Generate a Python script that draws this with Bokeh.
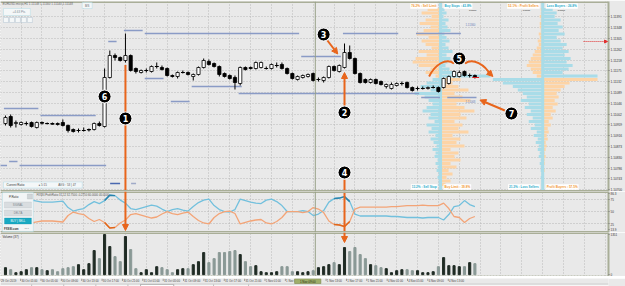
import numpy as np
from bokeh.plotting import figure
from bokeh.layouts import column
from bokeh.models import (Range1d, LinearAxis, FixedTicker, Grid, Span, Label,
                          Arrow, NormalHead, PrintfTickFormatter, ColumnDataSource, BoxAnnotation)
from bokeh.core.properties import value
from bokeh.embed import file_html
from bokeh.resources import INLINE

# ---------------- data ----------------
symbol = "EURUSD.micro,H1"
open_ = [1.10964,1.10992,1.10964,1.10960,1.10964,1.10968,1.10948,1.10968,1.10964,1.10964,
         1.10964,1.10968,1.10956,1.10940,1.10936,1.10936,1.10938,1.10940,1.10964,1.10952,
         1.11148,1.11236,1.11228,1.11216,1.11236,1.11184,1.11168,1.11176,1.11172,1.11192,
         1.11188,1.11184,1.11156,1.11152,1.11168,1.11168,1.11152,1.11160,1.11188,1.11212,
         1.11204,1.11192,1.11164,1.11156,1.11148,1.11124,1.11188,1.11188,1.11184,1.11188,
         1.11184,1.11184,1.11196,1.11200,1.11184,1.11164,1.11140,1.11148,1.11152,1.11164,
         1.11140,1.11136,1.11148,1.11192,1.11172,1.11188,1.11248,1.11224,1.11164,1.11140,
         1.11128,1.11140,1.11132,1.11112,1.11104,1.11116,1.11124,1.11128,1.11108,1.11104,
         1.11104,1.11104,1.11108,1.11108,1.11108,1.11124,1.11152,1.11152,1.11172,1.11156,1.11156]
high = [1.10996,1.11000,1.10976,1.10972,1.10972,1.10972,1.10972,1.10972,1.10968,1.10968,
        1.10968,1.10980,1.10960,1.10944,1.10944,1.10948,1.10944,1.10968,1.10972,1.11184,
        1.11256,1.11244,1.11232,1.11324,1.11240,1.11188,1.11180,1.11184,1.11196,1.11208,
        1.11196,1.11188,1.11160,1.11172,1.11176,1.11172,1.11164,1.11192,1.11224,1.11220,
        1.11208,1.11196,1.11168,1.11160,1.11156,1.11192,1.11192,1.11192,1.11212,1.11212,
        1.11192,1.11204,1.11208,1.11208,1.11188,1.11168,1.11156,1.11160,1.11164,1.11168,
        1.11148,1.11152,1.11196,1.11196,1.11200,1.11284,1.11276,1.11228,1.11168,1.11144,
        1.11144,1.11144,1.11136,1.11124,1.11128,1.11128,1.11132,1.11132,1.11112,1.11112,
        1.11112,1.11112,1.11116,1.11112,1.11148,1.11156,1.11176,1.11176,1.11176,1.11164,1.11160]
low = [1.10956,1.10948,1.10948,1.10956,1.10956,1.10948,1.10944,1.10960,1.10960,1.10960,
       1.10956,1.10952,1.10928,1.10928,1.10928,1.10932,1.10932,1.10936,1.10952,1.10948,
       1.11144,1.11216,1.11212,1.11208,1.11172,1.11164,1.11164,1.11168,1.11168,1.11184,
       1.11176,1.11152,1.11148,1.11144,1.11164,1.11156,1.11136,1.11156,1.11184,1.11196,
       1.11188,1.11152,1.11148,1.11140,1.11100,1.11116,1.11176,1.11180,1.11180,1.11184,
       1.11180,1.11180,1.11188,1.11180,1.11160,1.11140,1.11136,1.11144,1.11148,1.11132,
       1.11132,1.11128,1.11144,1.11172,1.11168,1.11184,1.11220,1.11160,1.11124,1.11124,
       1.11124,1.11120,1.11116,1.11104,1.11100,1.11112,1.11116,1.11104,1.11092,1.11096,
       1.11100,1.11100,1.11104,1.11088,1.11104,1.11120,1.11148,1.11148,1.11152,1.11148,1.11144]
close = [1.10988,1.10956,1.10968,1.10968,1.10964,1.10952,1.10968,1.10966,1.10964,1.10962,
         1.10960,1.10956,1.10936,1.10932,1.10936,1.10936,1.10940,1.10964,1.10956,1.11148,
         1.11236,1.11228,1.11216,1.11236,1.11176,1.11172,1.11176,1.11176,1.11192,1.11192,
         1.11180,1.11156,1.11152,1.11168,1.11168,1.11160,1.11160,1.11188,1.11216,1.11200,
         1.11192,1.11160,1.11152,1.11144,1.11128,1.11188,1.11180,1.11184,1.11208,1.11208,
         1.11184,1.11200,1.11196,1.11184,1.11164,1.11144,1.11152,1.11156,1.11160,1.11136,
         1.11140,1.11148,1.11192,1.11176,1.11196,1.11248,1.11224,1.11164,1.11128,1.11128,
         1.11140,1.11124,1.11120,1.11120,1.11120,1.11124,1.11124,1.11108,1.11096,1.11104,
         1.11104,1.11108,1.11108,1.11092,1.11144,1.11152,1.11172,1.11168,1.11156,1.11156,1.11148]
volume = [237,169,68,101,169,237,237,169,135,169,
          101,203,237,270,338,169,372,811,541,1351,
          946,608,439,1284,845,203,68,169,68,270,
          237,169,68,169,203,203,338,439,744,406,
          541,744,744,777,811,676,439,270,304,101,
          68,68,101,270,270,101,101,68,101,135,
          237,270,338,406,338,913,777,913,676,541,
          338,304,237,203,68,135,169,169,135,135,
          68,68,101,270,575,304,304,270,270,406,372]
ratio_blue = [67,69,70,72,73,73,71,69,69,69,
              70,71,58,51,54,56,64,70,66,72,
              83,82,73,67,56,54,57,60,63,61,
              55,50,54,56,53,51,60,68,73,75,
              62,54,50,49,54,75,72,69,67,66,
              73,75,70,62,50,50,50,52,50,42,
              45,52,69,76,77,80,70,45,41,41,
              41,41,41,41,40,40,39,38,38,38,
              37,38,38,38,33,44,60,62,72,64,60]
ratio_orange = [33,31,30,28,27,27,29,31,31,31,
                30,29,42,49,46,44,36,30,34,28,
                17,18,27,33,44,46,43,40,37,39,
                45,50,46,44,47,49,40,32,27,25,
                38,46,50,51,46,25,28,31,33,34,
                27,25,30,38,50,50,50,48,50,58,
                55,48,31,24,23,20,30,55,59,59,
                59,59,59,59,60,60,61,62,62,62,
                63,62,62,62,67,56,40,38,28,36,40]
time_ticks = [-1,3,7,11,15,19,23,27,31,35,39,43,47,51,55,59,63,67,71,75,79,83,87]
time_labels = ["29 Oct 2019","30 Oct 01:00","30 Oct 05:00","30 Oct 09:00","30 Oct 13:00",
               "30 Oct 17:00","30 Oct 21:00","31 Oct 01:00","31 Oct 05:00","31 Oct 09:00",
               "31 Oct 13:00","31 Oct 17:00","31 Oct 21:00","1 Nov 01:00","1 Nov 05:00",
               "1 Nov 09:00","1 Nov 13:00","1 Nov 17:00","1 Nov 21:00","4 Nov 01:00",
               "4 Nov 05:00","4 Nov 09:00","4 Nov 13:00"]
price_ticks = [1.10700,1.10743,1.10786,1.10830,1.10873,1.10916,1.10959,1.11002,1.11046,
               1.11089,1.11132,1.11175,1.11218,1.11262,1.11305,1.11348,1.11391]
ratio_ticks = [13.9, 25, 50, 75, 86.3]
volume_ticks = [0, 1351]
# order book / position book levels and percentages
book_levels = [1.11420,1.11406,1.11392,1.11378,1.11364,1.11350,1.11336,1.11322,1.11308,1.11294,
               1.11280,1.11266,1.11252,1.11238,1.11224,1.11210,1.11196,1.11182,1.11168,1.11154,
               1.11140,1.11126,1.11112,1.11098,1.11084,1.11070,1.11056,1.11042,1.11028,1.11014,
               1.11000,1.10986,1.10972,1.10958,1.10944,1.10930,1.10916,1.10902,1.10888,1.10874,
               1.10860,1.10846,1.10832,1.10818,1.10804,1.10790,1.10776,1.10762,1.10748,1.10734,1.10720]
orders_left = [1.3,1.9,0.9,1.5,2.1,1.0,1.7,2.4,1.2,1.9,1.5,0.9,2.2,1.4,2.5,2.8,2.2,1.0,1.5,0.5,
               0.8,1.4,2.0,1.0,2.6,1.6,1.2,0.8,1.4,1.8,1.0,1.2,0.6,1.4,0.9,1.2,0.5,1.0,0.7,0.4,
               0.8,0.5,0.6,0.3,0.5,0.3,0.4,0.2,0.3,0.2,0.2]
orders_right = [0.4,0.6,0.3,0.8,0.5,0.7,1.0,0.4,0.6,0.9,0.5,0.8,1.2,0.6,1.0,0.7,0.5,0.9,1.4,5.0,
                2.0,1.2,1.8,2.8,1.4,2.2,3.0,1.6,2.4,3.4,2.0,2.6,1.4,2.2,1.8,2.8,1.2,2.0,1.6,2.4,
                1.0,1.8,1.4,2.0,1.0,1.6,0.8,1.2,0.6,1.0,0.5]
positions_left = [0.2,0.2,0.3,0.2,0.3,0.3,0.2,0.4,0.3,0.5,0.4,0.6,0.8,1.0,1.2,1.4,1.6,1.2,1.0,0.6,
                  5.0,4.0,3.0,2.5,2.0,1.6,2.2,1.4,1.8,1.2,1.6,1.0,1.4,0.8,1.2,0.6,0.9,0.5,0.7,0.4,
                  0.5,0.3,0.4,0.2,0.3,0.2,0.2,0.1,0.2,0.1,0.1]
positions_right = [1.0,1.4,1.2,1.8,1.5,2.0,1.6,2.2,1.4,1.8,2.4,2.0,2.6,2.2,2.8,2.4,3.0,2.6,2.0,5.5,
                   5.5,2.7,2.2,1.8,1.4,1.6,1.2,1.5,1.0,1.3,0.8,1.0,0.6,0.8,0.5,0.6,0.4,0.5,0.3,0.4,
                   0.3,0.2,0.3,0.2,0.2,0.1,0.2,0.1,0.1,0.1,0.1]
# horizontal level lines drawn on the chart
level_price = [1.11336,1.11324,1.11324,1.11324,1.11292,1.11232,1.11144,1.11112,1.11084,
               1.11068,1.11068,1.11024,1.10996,1.11052,1.10796,1.10812,1.10796]
level_start = [23,27,65,79,20,57,27,36,45,80,85,0,7,32,-1,1,3]
level_end = [26,56,75,87,21,64,30,45,79,83,90,6,17,35,0,2,19]
marker_bar = [23,65,61,65,87,19,97]
marker_price = [1.10984,1.11008,1.11320,1.10768,1.11224,1.11072,1.11004]
marker_text = ["1","2","3","4","5","6","7"]
tabs = ["EURUSD.micro,M15","GBPUSD.micro,H1","USDJPY.micro,M15","AUDCAD.micro,H1",
        "USDCAD.micro,H1","EURAUD.micro,H1","EURUSD.micro,H1"]

# ---------------- style / geometry ----------------
OL = "#a9ae98"; BG = "#e9e9e9"; GRIDC = "#b4b4b4"
OR = "#e8651c"; ORB = "#fdd4a6"; BLB = "#a9dce8"; ORT = "#f2982f"; BLT = "#27abc9"
LV = "#8a9bc6"; FONT = "Liberation Sans"
PX_BAR = 5.233
def bx(xp): return (xp - 5) / PX_BAR
def py(yp): return 1.11456 - 0.00004 * yp
def ry(yp): return 90.3 - (yp - 191) * 2.011
def vy(yp): return (276 - yp) * 33.636 - 60
def ty(yp): return 286 - yp

idx = np.arange(len(open_))
o = np.array(open_); c = np.array(close)
bid = close[-1]
crosshair_bar = 59.4
grid_ticks = time_ticks + [91, 95, 99, 103, 107, 111, 115]

xr = Range1d(bx(0), bx(610))

def mkfig(h, yr, top=0, bottom=0):
    f = figure(width=625, height=h, x_range=xr, y_range=yr, output_backend="svg",
               toolbar_location=None, x_axis_location=None, y_axis_location=None,
               min_border_left=0, min_border_right=15, min_border_top=top,
               min_border_bottom=bottom, background_fill_color=BG, border_fill_color=BG)
    f.outline_line_color = None
    f.xgrid.visible = False
    f.ygrid.visible = False
    f.add_layout(Grid(dimension=0, ticker=FixedTicker(ticks=grid_ticks), grid_line_color=GRIDC,
                      grid_line_dash="1 2", grid_line_alpha=0.9))
    return f

def right_axis(f, ticks, fmt, size="3.2px"):
    ax = LinearAxis(ticker=FixedTicker(ticks=ticks), formatter=PrintfTickFormatter(format=fmt),
                    axis_line_color=OL, axis_line_width=2, major_tick_line_color="#777",
                    major_tick_out=1, major_tick_in=0, minor_tick_line_color=None,
                    major_label_text_font_size=size, major_label_text_color="#333",
                    major_label_standoff=1, major_label_text_font=FONT)
    f.add_layout(ax, "right")

def lab(f, x, y, text, size="3px", color="#444", align="left", bg=None, border=None,
        style="normal", pad=0, xr_name="default", baseline="middle"):
    f.add_layout(Label(x=x, y=y, text=text, text_font_size=size, text_color=color,
                       text_align=align, text_baseline=baseline, text_font=FONT,
                       text_font_style=style, background_fill_color=bg,
                       border_line_color=border, padding=pad, x_range_name=xr_name))

def box(f, l, r, t, b, fill, line):
    f.add_layout(BoxAnnotation(left=l, right=r, top=t, bottom=b, fill_color=fill,
                               fill_alpha=1, line_color=line, line_width=1))

# ---------------- main price panel ----------------
p1 = mkfig(191, Range1d(py(191), py(1)), top=1)
p1.extra_x_ranges = {"book": Range1d(0, 61)}
p1.add_layout(Grid(dimension=1, ticker=FixedTicker(ticks=price_ticks), grid_line_color=GRIDC,
                   grid_line_dash="1 2", grid_line_alpha=0.9))
right_axis(p1, price_ticks, "%.5f")

above = [lv > bid for lv in book_levels]
B1, B2 = 44.15, 54.4
p1.hbar(y=book_levels, height=0.00012, left=[B1 - v for v in orders_left], right=B1,
        fill_color=[ORB if a else BLB for a in above], line_color=None, x_range_name="book")
p1.hbar(y=book_levels, height=0.00012, left=B1, right=[B1 + v for v in orders_right],
        fill_color=[BLB if a else ORB for a in above], line_color=None, x_range_name="book")
p1.hbar(y=book_levels, height=0.00012, left=[B2 - v for v in positions_left], right=B2,
        fill_color=[ORB if a else BLB for a in above], line_color=None, x_range_name="book")
p1.hbar(y=book_levels, height=0.00012, left=B2, right=[B2 + v for v in positions_right],
        fill_color=[BLB if a else ORB for a in above], line_color=None, x_range_name="book")
p1.quad(left=[B1 - 0.15, B2 - 0.15], right=[B1 + 0.15, B2 + 0.15], bottom=py(191), top=py(1),
        fill_color=BLB, line_color=None, x_range_name="book")

# book captions
for x, t, al, col, yy in [(B1 - 0.3, "76.2% : Sell Limit", "right", ORT, 5.5),
                          (B1 + 0.3, "Buy Stops : 43.8%", "left", BLT, 5.5),
                          (B2 - 0.3, "52.1% : Profit Sellers", "right", ORT, 5.5),
                          (B2 + 0.3, "Loss Buyers : 26.8%", "left", BLT, 5.5),
                          (B1 - 0.3, "13.2% : Sell Stop", "right", BLT, 186.5),
                          (B1 + 0.3, "Buy Limit : 39.8%", "left", ORT, 186.5),
                          (B2 - 0.3, "21.3% : Loss Sellers", "right", BLT, 186.5),
                          (B2 + 0.3, "Profit Buyers : 57.5%", "left", ORT, 186.5)]:
    lab(p1, x, py(yy), t, size="3.1px", color=col, align=al, bg="white", style="bold",
        pad=1, xr_name="book")
for x in [47.0, 52.4, 55.9]:
    lab(p1, x, py(10), "0.0000", size="2.4px", color="#555", bg="#c9c9c9", pad=0, xr_name="book")

# level lines
for pr, s, e in zip(level_price, level_start, level_end):
    p1.segment(x0=s - 0.3, x1=e + 0.3, y0=pr, y1=pr, line_color=LV, line_width=1.6)
lab(p1, 88.2, py(24), "1.11360", size="2.8px", color="#6b7fb8")
lab(p1, 88.2, py(100.5), "1.11068", size="2.8px", color="#6b7fb8")

# candles
top = np.maximum(o, c); bot = np.minimum(o, c)
src = ColumnDataSource(dict(i=idx, h=high, l=low, top=top, bot=bot,
                            fill=["white" if cc >= oo else "black" for oo, cc in zip(open_, close)]))
p1.segment(x0="i", y0="h", x1="i", y1="l", source=src, line_color="black", line_width=1)
p1.vbar(x="i", width=0.62, top="top", bottom="bot", fill_color="fill", line_color="black",
        line_width=0.8, source=src)
doji = [k for k in idx if abs(open_[k] - close[k]) < 0.00003]
p1.segment(x0=[k - 0.35 for k in doji], x1=[k + 0.35 for k in doji],
           y0=[close[k] for k in doji], y1=[close[k] for k in doji], line_color="black", line_width=1)
p1.segment(x0=[idx[-1] - 0.5], x1=[idx[-1] + 0.8], y0=[bid], y1=[bid], line_color="#e02020", line_width=1)
p1.add_layout(Arrow(end=NormalHead(size=3, fill_color="#e03030", line_color="#e03030"),
                    x_start=bx(585), y_start=py(41), x_end=bx(609), y_end=py(41),
                    line_color="#e03030", line_width=1, line_dash="1 1"))

# separators / crosshair
p1.add_layout(Span(location=py(191), dimension="width", line_color=OL, line_width=3))
p1.add_layout(Span(location=py(1), dimension="width", line_color=OL, line_width=3))
p1.add_layout(Span(location=crosshair_bar, dimension="height", line_color="#98a088", line_width=1))

# annotation arrows
def arrow(f, x0, y0, x1, y1, head=True, name="default"):
    f.add_layout(Arrow(end=NormalHead(size=6, fill_color=OR, line_color=OR) if head else None,
                       x_start=x0, y_start=y0, x_end=x1, y_end=y1, line_color=OR, line_width=2,
                       x_range_name=name))
p1.segment(x0=[23, 65], x1=[23, 65], y0=[low[23] - 0.0001, py(179)], y1=[py(191), py(191)],
           line_color=OR, line_width=2)
arrow(p1, 65, py(105), 65, low[65] - 0.00016)
arrow(p1, bx(328), py(40), level_end[5] - 0.3, level_price[5] + 0.0001)
arrow(p1, bx(506), py(110), bx(481), py(99.5))
p1.bezier(x0=[bx(455), bx(466)], y0=[py(63), py(63)], x1=[bx(430), bx(492)], y1=[py(76), py(75)],
          cx0=[bx(447), bx(474)], cy0=[py(57), py(57)], cx1=[bx(436), bx(486)], cy1=[py(64), py(64)],
          line_color=OR, line_width=2)
arrow(p1, bx(489), py(71), bx(494), py(76))
p1.scatter(marker_bar, marker_price, size=13, fill_color="black", line_color="white", line_width=1)
p1.text(marker_bar, marker_price, text=marker_text, text_color="white", text_font_size="8px",
        text_font_style="bold", text_align="center", text_baseline="middle",
        text_font=value("DejaVu Sans"))

# UI widgets (main panel)
lab(p1, bx(2), py(3.6), symbol + "  1.11148 1.11160 1.11140 1.11148", size="3px", color="#666")
box(p1, bx(3), bx(30), py(8), py(15), "#f4f7f8", "#8fd0e2")
p1.scatter([bx(7)], [py(11.5)], size=4, color="#38b54a")
lab(p1, bx(12), py(11.5), "+4.63 Pts", size="3px", color="#7c8a90")
for xl in [3, 9, 15, 21, 27]:
    box(p1, bx(xl), bx(xl + 5), py(17), py(22), "#f4f7f8", "#8fa8c0")
    p1.scatter([bx(xl + 2.5)], [py(19.5)], size=2, marker="square", color="#556070")
box(p1, bx(82), bx(92), py(2), py(8), "#f4f7f8", "#8fd0e2")
lab(p1, bx(87), py(5), "B/S", size="2.8px", color="#666", align="center")
box(p1, bx(3), bx(82), py(181.5), py(187.5), "#f4f7f8", "#8fd0e2")
lab(p1, bx(6), py(184.5), "Current Ratio", size="3px", color="#333")
lab(p1, bx(38), py(184.5), "\u25cf 5:15", size="3px", color="#555")
lab(p1, bx(58), py(184.5), "AVG : 53 | 47", size="3px", color="#555")
p1.segment(x0=[bx(110), bx(131)], x1=[bx(120), bx(136)], y0=[py(183), py(183)], y1=[py(183), py(183)],
           line_color=["#4a68b0", "#a0aac8"], line_width=1.5)
p1.add_layout(Label(x=115.75, y=bid, text="1.11148", text_font_size="3.2px", text_color="white",
                    text_baseline="middle", text_font=FONT, background_fill_color="#55643e", padding=1))
p1.add_layout(Label(x=115.75, y=py(4), text="1.11440", text_font_size="3.2px", text_color="white",
                    text_baseline="middle", text_font=FONT, background_fill_color="#55643e", padding=1))

# ---------------- ratio panel ----------------
p2 = mkfig(41, Range1d(ry(232), ry(191)))
p2.add_layout(Grid(dimension=1, ticker=FixedTicker(ticks=[25, 50, 75]), grid_line_color=GRIDC,
                   grid_line_dash="1 2"))
right_axis(p2, ratio_ticks, "%g", size="3px")
p2.line(idx, ratio_blue, line_color="#72c0dd", line_width=1.3)
p2.line(idx, ratio_orange, line_color="#f3a477", line_width=1.3)
for a, b in [(19, 22), (63, 67)]:
    p2.line(idx[a:b], ratio_blue[a:b], line_color="#2784ad", line_width=1.5)
    p2.line(idx[a:b], ratio_orange[a:b], line_color="#e0661a", line_width=1.5)
p2.add_layout(Span(location=ry(191), dimension="width", line_color=OL, line_width=3))
p2.add_layout(Span(location=ry(232), dimension="width", line_color=OL, line_width=3))
p2.add_layout(Span(location=crosshair_bar, dimension="height", line_color="#98a088", line_width=1))
p2.segment(x0=[65], x1=[65], y0=[ry(191)], y1=[ry(232)], line_color=OR, line_width=2)
arrow(p2, 23, ry(191), 23, ry(230))
box(p2, bx(2), bx(33), ry(192), ry(231), "#f2f5f6", "#8fd0e2")
p2.scatter([bx(6)], [ry(196)], size=3.5, color="#38b54a")
lab(p2, bx(8.5), ry(196), "P.Ratio", size="3px", color="#333")
box(p2, bx(27), bx(32), ry(193.5), ry(198.5), "#d0d5d8", "#aab2b6")
for t_, y0, fill, line, col in [("SIGNAL", 201.5, "#d9dde0", "#b5bcc0", "#7a8288"),
                                ("DELTA", 209.5, "#d9dde0", "#b5bcc0", "#7a8288"),
                                ("BUY | SELL", 217.5, "#17a9c2", "#0e8ea5", "white")]:
    box(p2, bx(4), bx(31), ry(y0), ry(y0 + 6), fill, line)
    lab(p2, bx(17.5), ry(y0 + 3), t_, size="2.8px", color=col, align="center")
lab(p2, bx(3.5), ry(228.3), "FXSSI.com", size="2.8px", color="#333", style="bold")
lab(p2, bx(24), ry(228.3), "v1.0", size="2.4px", color="#777")
lab(p2, bx(36), ry(194.5), "FXSSI.ProfitRatio 31.12 32.7500 -0.2750 60.0000 40.0000",
    size="2.8px", color="#555")

# ---------------- volume panel ----------------
p3 = mkfig(44, Range1d(vy(276), vy(232)))
right_axis(p3, volume_ticks, "%d", size="3px")
p3.vbar(x=idx, top=volume, bottom=0, width=0.4,
        color=["#1f2b24" if cc >= oo else "#8a9996" for oo, cc in zip(open_, close)])
p3.add_layout(Span(location=vy(232), dimension="width", line_color=OL, line_width=3))
p3.add_layout(Span(location=vy(276), dimension="width", line_color=OL, line_width=2, line_dash="2 1"))
p3.add_layout(Span(location=crosshair_bar, dimension="height", line_color="#98a088", line_width=1))
arrow(p3, 65, vy(232), 65, volume[65] + 170)
lab(p3, bx(2), vy(236), "Volume (37)", size="3px", color="#333")

# ---------------- time axis + tab strip ----------------
p4 = figure(width=625, height=10, x_range=Range1d(bx(0), bx(625)), y_range=Range1d(0, 10),
            output_backend="svg", toolbar_location=None, x_axis_location=None,
            y_axis_location=None, min_border=0, background_fill_color=BG, border_fill_color=BG)
p4.outline_line_color = None
p4.xgrid.visible = False
p4.ygrid.visible = False
p4.quad(left=[bx(0)], right=[bx(625)], bottom=[0], top=[ty(281.6)], fill_color="#f7f7f7",
        line_color=None)
p4.segment(x0=[bx(0)], x1=[bx(625)], y0=[ty(281.6)], y1=[ty(281.6)], line_color="#c0c0c0", line_width=0.8)
keep = [k for k, t in enumerate(time_ticks) if t != 59]
p4.segment(x0=[time_ticks[k] for k in keep], x1=[time_ticks[k] for k in keep],
           y0=ty(276), y1=ty(278.5), line_color="#666", line_width=0.6)
p4.text([time_ticks[k] + 0.15 for k in keep], [ty(276.9)] * len(keep),
        text=[time_labels[k] for k in keep], text_font_size="2.8px", text_color="#444",
        text_align="left", text_baseline="top", text_font=value(FONT))
p4.quad(left=[crosshair_bar - 13.5 / PX_BAR], right=[crosshair_bar + 13.5 / PX_BAR],
        bottom=[ty(281)], top=[ty(276.3)], fill_color="#9fae6a", line_color="#7d8c4c", line_width=0.6)
p4.text([crosshair_bar], [ty(278.7)], text=[time_labels[time_ticks.index(59)]],
        text_font_size="2.9px", text_color="#1e2a10", text_align="center", text_baseline="middle",
        text_font=value(FONT))
tab_x = [5, 35, 68, 101, 148, 184, 222]
tab_sep = [32, 65, 98, 131, 144, 178, 219, 255]
p4.segment(x0=[bx(s) for s in tab_sep], x1=[bx(s) for s in tab_sep], y0=0, y1=ty(282),
           line_color="#b0b0b0", line_width=0.8)
p4.quad(left=[bx(144)], right=[bx(178)], bottom=[0], top=[ty(282)], fill_color="white",
        line_color="#999", line_width=0.6)
p4.text([bx(x) for x in tab_x], [ty(283.4)] * len(tab_x), text=tabs, text_font_size="2.4px",
        text_baseline="middle",
        text_color=["#666", "#666", "#666", "#666", "#d03030", "#666", "#666"],
        text_font=value(FONT))

layout = column(p1, p2, p3, p4, spacing=0)
open("out.html", "w").write(file_html(layout, INLINE))
